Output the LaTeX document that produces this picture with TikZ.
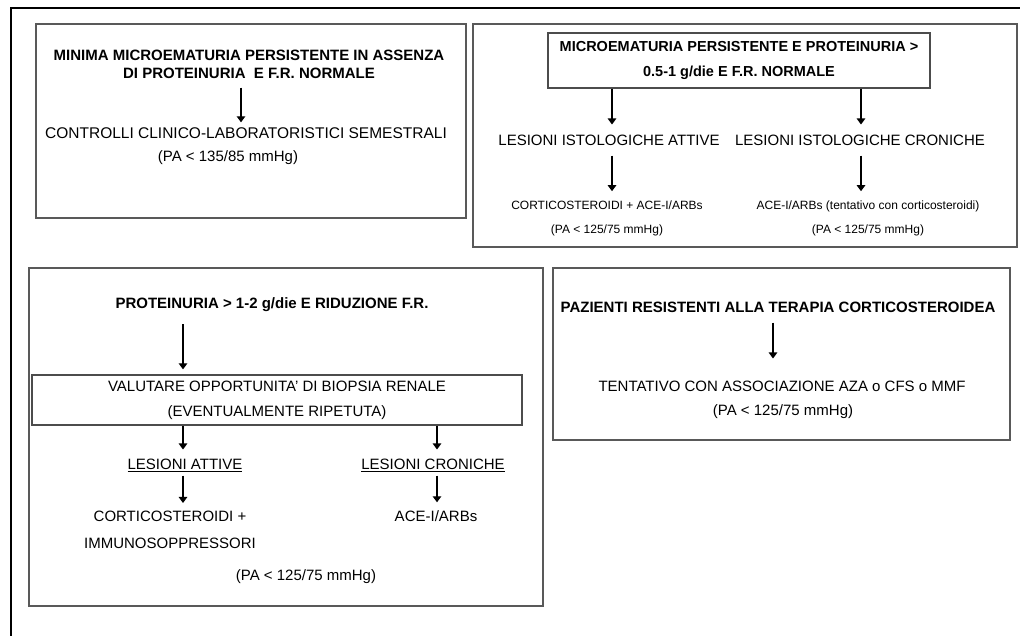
\documentclass[tikz,border=0pt]{standalone}
\usepackage{fontspec}
\setmainfont{Liberation Sans}
\usepackage{xcolor}
\usepackage{tikz}
\usetikzlibrary{positioning,arrows.meta}

\tikzset{
  panel/.style={draw=black!65, line width=1.6pt},
  framebox/.style={draw=black!70, line width=1.3pt, inner sep=0pt},
  txt/.style={font=\fontsize{15}{18}\selectfont, align=center, inner sep=0pt},
  head/.style={font=\fontsize{15}{18}\selectfont\bfseries, align=center, inner sep=0pt},
  small/.style={font=\fontsize{12}{24}\selectfont, align=center, inner sep=0pt},
  arr/.style={-{Triangle[length=6pt,width=8.5pt]}, line width=1.2pt},
}

\begin{document}
\begin{tikzpicture}[x=1pt, y=-1pt]
            \useasboundingbox (0,0) rectangle (1020,636);

            % Outer Frame
            \draw[line width=1.5pt] (1020,8) -- (11,8) -- (11,636);

            % Box 1
            \draw[panel] (36,24) rectangle (466,218);
            \node[head] (t1) at (249,64) {MINIMA MICROEMATURIA PERSISTENTE IN ASSENZA\\DI PROTEINURIA\ \ E F.R. NORMALE};
            \node[txt, font=\fontsize{15.5}{18}\selectfont] (c1) at (246,133) {CONTROLLI CLINICO-LABORATORISTICI SEMESTRALI};
            \node[txt] (p1) at (228,158) {(PA < 135/85 mmHg)};
            \coordinate (a1) at (241,0);
            \draw[arr, shorten <=9pt, shorten >=5pt] (t1.south -| a1) -- (c1.north -| a1);

            % Box 2
            \draw[panel] (473,24) rectangle (1017,247);
            \node[framebox, head, minimum width=382pt, minimum height=55pt,
                  font=\fontsize{14.5}{25}\selectfont\bfseries] (t2) at (739,60.5)
                  {MICROEMATURIA PERSISTENTE E PROTEINURIA >\\0.5-1 g/die E F.R. NORMALE};
            \node[txt] (l2a) at (609,140) {LESIONI ISTOLOGICHE ATTIVE};
            \node[txt] (l2b) at (860,140) {LESIONI ISTOLOGICHE CRONICHE};
            \node[small] (s2a) at (607,218) {CORTICOSTEROIDI + ACE-I/ARBs\\(PA < 125/75 mmHg)};
            \node[small] (s2b) at (868,218) {ACE-I/ARBs (tentativo con corticosteroidi)\\(PA < 125/75 mmHg)};
            \coordinate (a2a) at (612,0);
            \coordinate (a2b) at (861,0);
            \draw[arr, shorten >=10pt] (t2.south -| a2a) -- (l2a.north -| a2a);
            \draw[arr, shorten >=10pt] (t2.south -| a2b) -- (l2b.north -| a2b);
            \draw[arr, shorten <=10pt, shorten >=9pt] (l2a.south -| a2a) -- (s2a.north -| a2a);
            \draw[arr, shorten <=10pt, shorten >=9pt] (l2b.south -| a2b) -- (s2b.north -| a2b);

            % Box 3
            \draw[panel] (29,268) rectangle (543,606);
            \node[head] (t3) at (272,305) {PROTEINURIA > 1-2 g/die E RIDUZIONE F.R.};
            \node[framebox, txt, minimum width=490pt, minimum height=50pt,
                  font=\fontsize{15}{25}\selectfont] (v3) at (277,400)
                  {VALUTARE OPPORTUNITA' DI BIOPSIA RENALE\\(EVENTUALMENTE RIPETUTA)};
            \node[txt] (l3a) at (185,465) {\underline{LESIONI ATTIVE}};
            \node[txt] (l3b) at (433,465) {\underline{LESIONI CRONICHE}};
            \node[txt, font=\fontsize{15}{27}\selectfont] (c3a) at (170,530) {CORTICOSTEROIDI +\\IMMUNOSOPPRESSORI};
            \node[txt] (c3b) at (436,516) {ACE-I/ARBs};
            \node[txt] (p3) at (306,577) {(PA < 125/75 mmHg)};
            \coordinate (a3a) at (183,0);
            \coordinate (a3b) at (437,0);
            \draw[arr, shorten <=12pt, shorten >=5pt] (t3.south -| a3a) -- (v3.north -| a3a);
            \draw[arr, shorten >=9pt] (v3.south -| a3a) -- (l3a.north -| a3a);
            \draw[arr, shorten >=9pt] (v3.south -| a3b) -- (l3b.north -| a3b);
            \draw[arr, shorten <=4pt, shorten >=8pt] (l3a.south -| a3a) -- (c3a.north -| a3a);
            \draw[arr, shorten <=4pt, shorten >=8pt] (l3b.south -| a3b) -- (c3b.north -| a3b);

            % Box 4
            \draw[panel] (553,268) rectangle (1010,440);
            \node[head] (t4) at (778,307) {PAZIENTI RESISTENTI ALLA TERAPIA CORTICOSTEROIDEA};
            \node[txt] (c4) at (782,386) {TENTATIVO CON ASSOCIAZIONE AZA o CFS o MMF};
            \node[txt] (p4) at (783,412) {(PA < 125/75 mmHg)};
            \coordinate (a4) at (773,0);
            \draw[arr, shorten <=10pt, shorten >=22pt] (t4.south -| a4) -- (c4.north -| a4);
        \end{tikzpicture}
\end{document}
